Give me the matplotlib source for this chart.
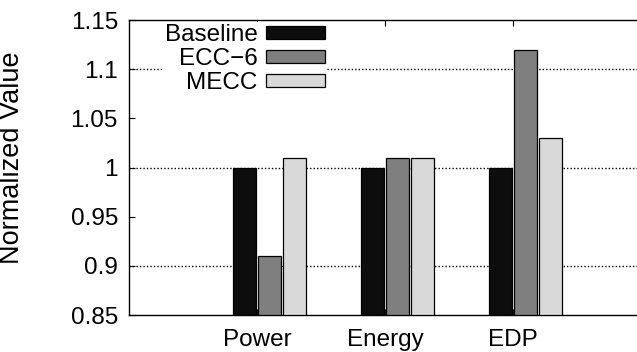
import matplotlib
matplotlib.use("Agg")
import matplotlib.pyplot as plt
import numpy as np

plt.rcParams['font.family'] = ['Liberation Sans', 'DejaVu Sans']

categories = ['Power', 'Energy', 'EDP']
series = ['Baseline', 'ECC\u22126', 'MECC']
baseline = [1.0, 1.0, 1.0]
ecc6 = [0.91, 1.01, 1.12]
mecc = [1.01, 1.01, 1.03]
yticks = [0.85, 0.9, 0.95, 1.0, 1.05, 1.1, 1.15]
ytick_labels = ['0.85', '0.9', '0.95', '1', '1.05', '1.1', '1.15']
grid_vals = [0.9, 1.0, 1.1]

colors = ['#0d0d0d', '#7f7f7f', '#d9d9d9']
offsets = [-0.1, 0.1, 0.29]
width = 0.18
fs = 17.5

fig = plt.figure(figsize=(6.37, 3.52), dpi=100)
ax = fig.add_axes([0.2025, 0.105, 0.804, 0.838])

x = np.arange(len(categories))
for vals, name, c, off in zip([baseline, ecc6, mecc], series, colors, offsets):
    ax.bar(x + off, np.array(vals) - 0.85, width, bottom=0.85, color=c,
           edgecolor='black', linewidth=0.9, label=name, zorder=3)

ax.hlines(grid_vals, -1, 3, colors='black', linestyles=(0, (1, 1.5)),
          linewidth=1.0, zorder=1)

ax.set_xlim(-1, 3)
ax.set_ylim(0.85, 1.15)
ax.set_yticks(yticks)
ax.set_yticklabels(ytick_labels)
ax.set_xticks(x)
ax.set_xticklabels(categories)
ax.tick_params(axis='both', direction='in', labelsize=fs, length=4,
               top=True, right=False, width=0.8)
ax.tick_params(axis='x', pad=10)
ax.tick_params(axis='y', pad=8)
for s in ['top', 'left', 'bottom']:
    ax.spines[s].set_linewidth(1.0)
ax.spines['right'].set_visible(False)

ax.set_ylabel('Normalized Value', fontsize=19.5)
ax.yaxis.set_label_coords(-0.203, 0.532)

leg = ax.legend(loc='upper right', bbox_to_anchor=(0.387, 0.995),
                markerfirst=False, fontsize=fs, frameon=True,
                handlelength=2.43, handleheight=0.45, handletextpad=0.33,
                labelspacing=0.09, borderpad=0.1, borderaxespad=0)
leg.get_frame().set_facecolor('white')
leg.get_frame().set_edgecolor('none')
leg.get_frame().set_alpha(1)
leg.set_zorder(5)
for t in leg.get_texts():
    t.set_ha('right')

fig.savefig('out.png', dpi=100)
